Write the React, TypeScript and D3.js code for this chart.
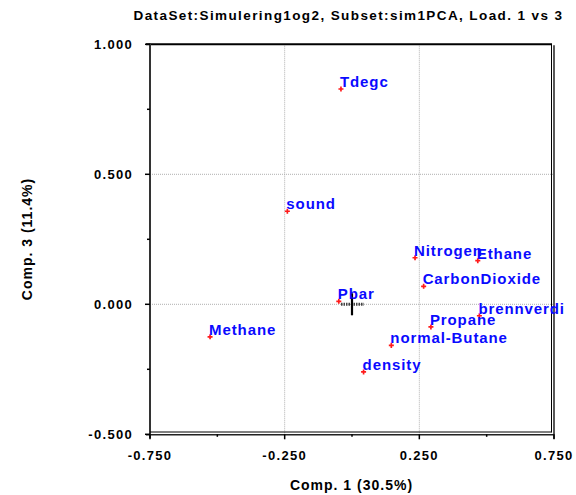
import React from "react";
import * as d3 from "d3";

const names = ["Tdegc", "sound", "Nitrogen", "Ethane", "CarbonDioxide", "Pbar", "brennverdi", "Propane", "normal-Butane", "density", "Methane"];
const comp1 = [-0.041, -0.24, 0.234, 0.467, 0.266, -0.049, 0.473, 0.293, 0.146, 0.043, -0.527];
const comp3 = [0.828, 0.358, 0.179, 0.168, 0.069, 0.0115, -0.044, -0.087, -0.158, -0.26, -0.125];
const xMajor = [-0.75, -0.25, 0.25, 0.75];
const xMinor = [-0.5, 0, 0.5];
const yMajor = [-0.5, 0, 0.5, 1.0];
const yMinor = [-0.25, 0.25, 0.75];
const title = "DataSet:Simulering1og2, Subset:sim1PCA, Load. 1 vs 3";
const xTitle = "Comp. 1 (30.5%)";
const yTitle = "Comp. 3 (11.4%)";

const W = 576, H = 495;
const L = 150, R = 554, T = 44.3, B = 434.3;

export default function App() {
  const x = d3.scaleLinear().domain([-0.75, 0.75]).range([L, R]);
  const y = d3.scaleLinear().domain([-0.5, 1.0]).range([B, T]);
  const f3 = d3.format(".3f");
  const fmt = (v: number) => f3(v).replace("\u2212", "-");
  const font = "'Liberation Sans', Arial, sans-serif";
  const marker = d3.symbol().type(d3.symbolCross).size(14)();
  return (
    <svg width={W} height={H} style={{ position: "absolute", left: 0, top: 0, background: "#fff" }} fontFamily={font}>
      <rect x={0} y={0} width={W} height={H} fill="#fff" />
      <text x={348.5} y={20} textAnchor="middle" fontSize={13.5} fontWeight="bold" letterSpacing={1.4}>{title}</text>
      {/* grid */}
      {[-0.25, 0.25].map((v) => (
        <line key={"gx" + v} x1={x(v)} x2={x(v)} y1={T} y2={B} stroke="#b0b0b0" strokeDasharray="1,1" />
      ))}
      {[0, 0.5].map((v) => (
        <line key={"gy" + v} x1={L} x2={R} y1={y(v)} y2={y(v)} stroke="#b0b0b0" strokeDasharray="1,1" />
      ))}
      {/* frame */}
      <line x1={L - 4} x2={552} y1={T} y2={T} stroke="#000" strokeWidth={2} />
      <line x1={L} x2={L} y1={T - 1} y2={B + 4} stroke="#333" strokeWidth={2} />
      <line x1={551.5} x2={551.5} y1={T} y2={432.5} stroke="#000" strokeWidth={1} />
      <line x1={554} x2={554} y1={T + 1} y2={B + 4.5} stroke="#000" strokeWidth={1.3} />
      <line x1={L} x2={551.5} y1={432} y2={432} stroke="#000" strokeWidth={1} />
      <line x1={L - 4} x2={554} y1={B + 0.5} y2={B + 0.5} stroke="#222" strokeWidth={1.5} />
      {/* ticks */}
      {xMajor.map((v) => (
        <g key={"xt" + v}>
          <line x1={x(v)} x2={x(v)} y1={B} y2={B + 5} stroke="#000" strokeWidth={1.5} />
          <text x={x(v)} y={460} textAnchor="middle" fontSize={13} fontWeight="bold" letterSpacing={1.3}>{fmt(v)}</text>
        </g>
      ))}
      {xMinor.map((v) => (
        <line key={"xm" + v} x1={x(v)} x2={x(v)} y1={B} y2={B + 2.5} stroke="#000" strokeWidth={1.5} />
      ))}
      {yMajor.map((v) => (
        <g key={"yt" + v}>
          <line x1={L - 5} x2={L} y1={y(v)} y2={y(v)} stroke="#000" strokeWidth={1.5} />
          <text x={133} y={y(v) + 5} textAnchor="end" fontSize={13} fontWeight="bold" letterSpacing={1.3}>{fmt(v)}</text>
        </g>
      ))}
      {yMinor.map((v) => (
        <line key={"ym" + v} x1={L - 3} x2={L} y1={y(v)} y2={y(v)} stroke="#000" strokeWidth={1.5} />
      ))}
      {/* axis titles */}
      <text x={351.5} y={490} textAnchor="middle" fontSize={14} fontWeight="bold" letterSpacing={1}>{xTitle}</text>
      <text transform={`translate(32,239) rotate(-90)`} textAnchor="middle" fontSize={14} fontWeight="bold" letterSpacing={1}>{yTitle}</text>
      {/* origin cross */}
      <line x1={x(0) - 11} x2={x(0) + 12} y1={y(0)} y2={y(0)} stroke="#444" strokeWidth={3} strokeDasharray="1.5,1" />
      <line x1={x(0)} x2={x(0)} y1={y(0) - 11} y2={y(0) + 11} stroke="#000" strokeWidth={2.2} />
      {/* points */}
      {names.map((n, i) => (
        <g key={n}>
          <path d={marker} transform={`translate(${x(comp1[i])},${y(comp3[i])})`} fill="#ff1a1a" />
          <text x={x(comp1[i]) - 1} y={y(comp3[i]) - 2} fontSize={15} fontWeight="bold" fill="#0a0aff" letterSpacing={0.9}>{n}</text>
        </g>
      ))}
    </svg>
  );
}
